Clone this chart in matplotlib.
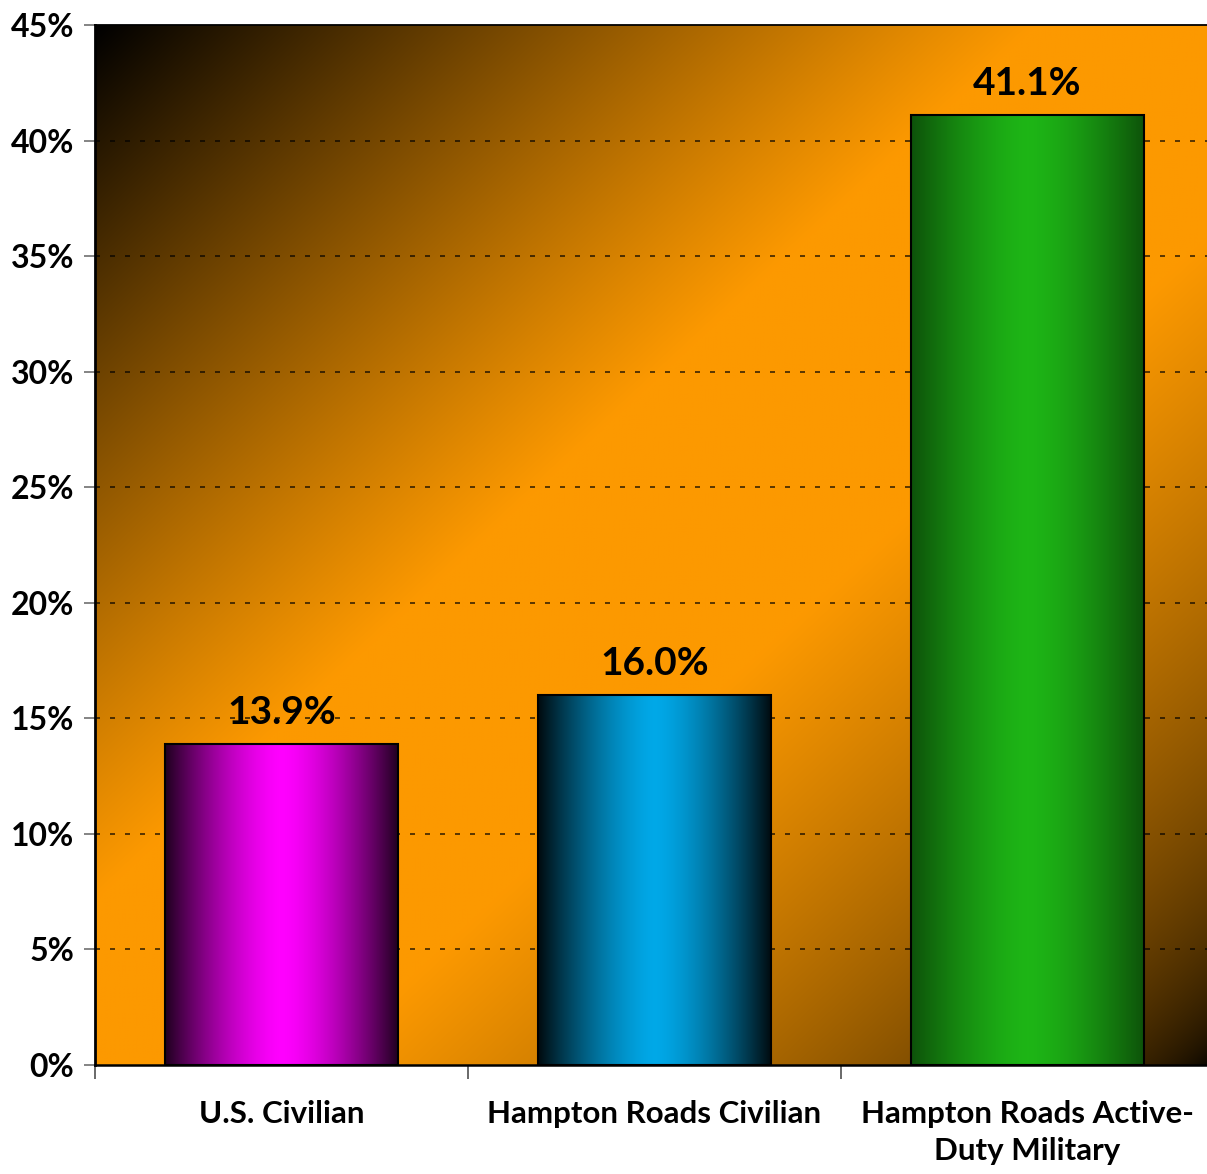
import numpy as np
import matplotlib
matplotlib.use("Agg")
import matplotlib.pyplot as plt
from matplotlib.ticker import FixedLocator

categories = ["U.S. Civilian", "Hampton Roads Civilian", "Hampton Roads Active-\nDuty Military"]
values = [13.9, 16.0, 41.1]
value_labels = ["13.9%", "16.0%", "41.1%"]
bar_colors = [(1.0, 0.0, 1.0), (0.0, 0.66, 0.91), (0.115, 0.71, 0.085)]
bar_edge_min = [0.12, 0.06, 0.45]
yticks = [0, 5, 10, 15, 20, 25, 30, 35, 40, 45]
ytick_labels = [f"{v}%" for v in yticks]

FONT = "Lato"
plt.rcParams['font.family'] = [FONT, 'DejaVu Sans']
plt.rcParams['font.weight'] = 'bold'
plt.rcParams['lines.scale_dashes'] = False

W, H = 1207, 1174
fig = plt.figure(figsize=(W / 100, H / 100), dpi=100)
# plot area extends slightly past the right edge of the figure
ax = fig.add_axes([95 / W, 1 - 1065 / H, (1214 - 95) / W, (1065 - 25) / H])

n = len(categories)
ax.set_xlim(-0.5, n - 0.5)
ax.set_ylim(0, 45)

# background diagonal gradient: black (top-left) -> orange -> black (bottom-right)
ny, nx = 500, 500
u = np.linspace(0, 1, nx)[None, :]
v = np.linspace(0, 1, ny)[:, None]  # 0 = top
t = (u + v) / 2
b = np.ones_like(t)
lo = t < 0.42
x = t[lo] / 0.42
b[lo] = np.clip(1.1 * x - 0.1 * x ** 3, 0, 1)
hi = t > 0.6
b[hi] = ((1 - t[hi]) / 0.4) ** 0.6
orange = np.array([0.99, 0.6, 0.0])
bg = b[..., None] * orange[None, None, :]
ax.imshow(bg, extent=(-0.5, n - 0.5, 0, 45), aspect='auto',
          origin='upper', zorder=0, interpolation='bilinear')

# gridlines
for y in yticks[1:-1]:
    ax.axhline(y, color='black', lw=1.4, linestyle=(0, (3.6, 7.2)), zorder=1, alpha=0.65)

# bars
width = 0.625
bars = ax.bar(range(n), values, width=width, facecolor='none',
              edgecolor='black', linewidth=1.5, zorder=3)
s = np.linspace(-1, 1, 400)
base = 1 - np.abs(s) ** 1.5
for i, (rect, col) in enumerate(zip(bars, bar_colors)):
    m = bar_edge_min[i]
    prof = m + (1 - m) * base
    img = prof[None, :, None] * np.array(col)[None, None, :]
    x0 = rect.get_x()
    ax.imshow(img, extent=(x0, x0 + width, 0, values[i]), aspect='auto',
              zorder=2, interpolation='bilinear')
    ax.annotate(value_labels[i], (i, values[i]), xytext=(0, 10), textcoords='offset points',
                ha='center', va='bottom', fontsize=28, fontweight='bold', color='black', zorder=5)

ax.set_xlim(-0.5, n - 0.5)
ax.set_ylim(0, 45)

ax.set_yticks(yticks)
ax.set_yticklabels(ytick_labels, fontsize=23, fontweight='bold')
ax.tick_params(axis='y', length=8, width=1.2, color='#707070', pad=7)

ax.set_xticks(range(n))
ax.set_xticklabels(categories, fontsize=22.5, fontweight='bold', linespacing=1.4)
ax.tick_params(axis='x', which='major', length=0, pad=25)
ax.xaxis.set_minor_locator(FixedLocator([-0.5, 0.5, 1.5]))
ax.tick_params(axis='x', which='minor', length=10, width=1.2, color='#505050')

ax.spines['left'].set_linewidth(2.0)
ax.spines['bottom'].set_linewidth(1.8)
ax.spines['top'].set_linewidth(1.3)
for sp in ['left', 'bottom', 'top']:
    ax.spines[sp].set_color('black')
ax.spines['right'].set_visible(False)

fig.savefig("out.png", dpi=100)
